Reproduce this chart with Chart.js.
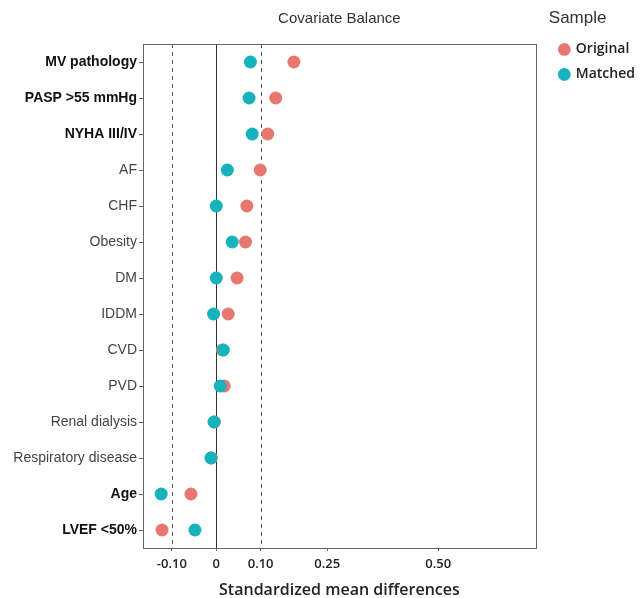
<!DOCTYPE html>
<html>
<head>
<meta charset="utf-8">
<script src="https://cdn.jsdelivr.net/npm/chart.js@4/dist/chart.umd.min.js"></script>
<style>
  body { margin: 0; background: #fff; }
  #wrap { width: 640px; height: 598px; position: relative; }
</style>
</head>
<body>
<div id="wrap"><canvas id="balance"></canvas></div>
<script>
// covariates, top to bottom
const categories = ['MV pathology', 'PASP >55 mmHg', 'NYHA III/IV', 'AF', 'CHF', 'Obesity', 'DM',
  'IDDM', 'CVD', 'PVD', 'Renal dialysis', 'Respiratory disease', 'Age', 'LVEF <50%'];

// standardized mean differences
const original = [0.175, 0.134, 0.116, 0.099, 0.069, 0.066, 0.047, 0.027, 0.014, 0.018, -0.004, -0.011, -0.057, -0.122];
const matched  = [0.077, 0.074, 0.081, 0.025, 0.000, 0.036, 0.000, -0.006, 0.016, 0.009, -0.005, -0.012, -0.124, -0.048];

const xTicks = [-0.10, 0, 0.10, 0.25, 0.50];
const refLines = [-0.10, 0, 0.10];

// labels printed in bold black in the original figure
const boldLabels = new Set(['MV pathology', 'PASP >55 mmHg', 'NYHA III/IV', 'Age', 'LVEF <50%']);

const SANS = "'Liberation Sans', Arial, sans-serif";
const OPEN = "'Open Sans', sans-serif";

const toPoints = vals => vals.map((v, i) => ({ x: v, y: categories[i] }));

// frame around the panel + the threshold lines
const panelDeco = {
  id: 'panelDeco',
  beforeDatasetsDraw(chart) {
    const { ctx, chartArea: a, scales: { x } } = chart;
    ctx.save();
    ctx.lineWidth = 1;
    refLines.forEach(v => {
      const px = Math.round(x.getPixelForValue(v)) + 0.5;
      ctx.strokeStyle = v === 0 ? '#333' : '#555';
      ctx.setLineDash(v === 0 ? [] : [4, 4]);
      ctx.beginPath();
      ctx.moveTo(px, a.top);
      ctx.lineTo(px, a.bottom);
      ctx.stroke();
    });
    ctx.setLineDash([]);
    ctx.strokeStyle = '#666';
    ctx.strokeRect(Math.round(a.left) + 0.5, Math.round(a.top) + 0.5,
      Math.round(a.right - a.left), Math.round(a.bottom - a.top));
    ctx.restore();
  }
};

new Chart(document.getElementById('balance'), {
  type: 'scatter',
  data: {
    datasets: [
      {
        label: 'Matched',
        data: toPoints(matched),
        backgroundColor: '#17b3bc',
        borderWidth: 0,
        pointRadius: 6.5,
        pointHoverRadius: 6.5
      },
      {
        label: 'Original',
        data: toPoints(original),
        backgroundColor: '#e8786f',
        borderWidth: 0,
        pointRadius: 6.5,
        pointHoverRadius: 6.5
      }
    ]
  },
  options: {
    responsive: true,
    maintainAspectRatio: false,
    animation: false,
    layout: { padding: { left: 6, right: -5, top: 0, bottom: 0 } },
    plugins: {
      title: {
        display: true,
        text: 'Covariate Balance',
        fullSize: false,
        color: '#333',
        font: { family: SANS, size: 15, weight: 'normal' },
        padding: { top: 10, bottom: 16 }
      },
      legend: {
        position: 'right',
        align: 'start',
        title: {
          display: true,
          text: 'Sample',
          position: 'start',
          color: '#333',
          font: { family: SANS, size: 17 },
          padding: { top: 10, bottom: 1 }
        },
        labels: {
          usePointStyle: true,
          pointStyle: 'circle',
          boxWidth: 9,
          boxHeight: 9,
          padding: 11,
          color: '#222',
          font: { family: OPEN, size: 14, weight: '600' },
          sort: (a, b) => b.datasetIndex - a.datasetIndex
        }
      },
      tooltip: { enabled: false }
    },
    scales: {
      x: {
        type: 'linear',
        min: -0.165,
        max: 0.72,
        afterBuildTicks: scale => { scale.ticks = xTicks.map(v => ({ value: v })); },
        grid: { drawOnChartArea: false, drawTicks: true, tickLength: 3, color: '#666' },
        border: { display: false },
        ticks: {
          color: '#222',
          padding: 5,
          font: { family: OPEN, size: 13, weight: '600' },
          callback: v => v === 0 ? '0' : v.toFixed(2)
        },
        title: {
          display: true,
          text: 'Standardized mean differences',
          color: '#222',
          font: { family: OPEN, size: 16, weight: '600', lineHeight: 0.9 },
          padding: { top: 7, bottom: 0 }
        }
      },
      y: {
        type: 'category',
        labels: categories,
        offset: true,
        afterFit: scale => { scale.width = 137; },
        grid: { drawOnChartArea: false, drawTicks: true, tickLength: 4, color: '#666' },
        border: { display: false },
        ticks: {
          padding: 2,
          color: ctx => boldLabels.has(categories[ctx.index]) ? '#111' : '#444',
          font: ctx => boldLabels.has(categories[ctx.index])
            ? { family: SANS, size: 14, weight: 'bold' }
            : { family: SANS, size: 14, weight: 'normal' }
        }
      },
      // empty right-hand axis, only keeps a gap between panel and legend
      gap: {
        type: 'linear',
        axis: 'y',
        position: 'right',
        grid: { display: false },
        border: { display: false },
        ticks: { display: false },
        afterFit: scale => { scale.width = 13; }
      }
    }
  },
  plugins: [panelDeco]
});
</script>
</body>
</html>
